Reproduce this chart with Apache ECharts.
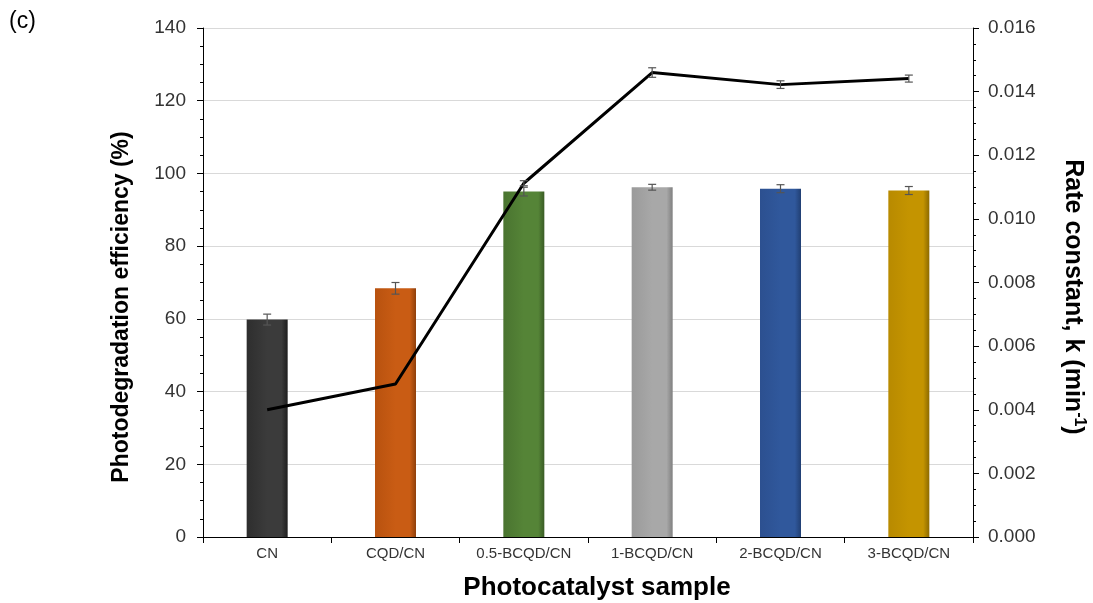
<!DOCTYPE html>
<html><head><meta charset="utf-8">
<script src="https://cdn.jsdelivr.net/npm/echarts@6/dist/echarts.min.js"></script>
<style>html,body{margin:0;padding:0;background:#fff}#c{width:1093px;height:603px}</style>
</head><body><div id="c"></div>
<script>
const categories = ['CN','CQD/CN','0.5-BCQD/CN','1-BCQD/CN','2-BCQD/CN','3-BCQD/CN'];
const efficiency = [59.8, 68.4, 95.0, 96.2, 95.8, 95.3];
const efficiencyErr = [1.5, 1.6, 1.2, 0.8, 1.1, 1.1];
const rateK = [0.00400, 0.00481, 0.01112, 0.01460, 0.01422, 0.01441];
const rateErr = [0, 0, 0.00008, 0.00015, 0.00012, 0.00011];
const leftTicks = [0,20,40,60,80,100,120,140];
const rightTicks = ['0.000','0.002','0.004','0.006','0.008','0.010','0.012','0.014','0.016'];
const barColors = [
  ['#2e2e2e','#3b3b3b','#1e1e1e'],
  ['#b8520f','#c95c14','#8f3f0b'],
  ['#4a7430','#558437','#3a5c25'],
  ['#9a9a9a','#a8a8a8','#808080'],
  ['#2c5090','#30589c','#213f73'],
  ['#b88a00','#c49400','#8c6a00']
];

function grad(c){
  return new echarts.graphic.LinearGradient(0,0,1,0,[
    {offset:0,color:c[0]},{offset:0.5,color:c[1]},{offset:0.85,color:c[1]},{offset:1,color:c[2]}]);
}

const chart = echarts.init(document.getElementById('c'), null, {renderer:'canvas'});
const font = 'Liberation Sans, Arial, sans-serif';

function errItem(params, api){
  const x = api.value(0), lo = api.value(1), hi = api.value(2);
  const p1 = api.coord([x, lo]), p2 = api.coord([x, hi]);
  const w = 4;
  const st = {stroke:'#555', lineWidth:1.2};
  return {type:'group', children:[
    {type:'line', shape:{x1:p1[0],y1:p1[1],x2:p2[0],y2:p2[1]}, style:st},
    {type:'line', shape:{x1:p1[0]-w,y1:p1[1],x2:p1[0]+w,y2:p1[1]}, style:st},
    {type:'line', shape:{x1:p2[0]-w,y1:p2[1],x2:p2[0]+w,y2:p2[1]}, style:st}
  ]};
}

chart.setOption({
  animation:false,
  backgroundColor:'#fff',
  graphic:[
    {type:'text', left:9, top:10, style:{text:'(c)', font:'23px '+font, fill:'#000'}},
    {type:'text', x:122, y:307, rotation:Math.PI/2,
      style:{text:'Photodegradation efficiency (%)', x:0, y:0, align:'center', verticalAlign:'middle',
        font:'bold 23px '+font, fill:'#000'}},
    {type:'text', x:1073, y:297, rotation:-Math.PI/2,
      style:{text:'{a|Rate constant, k (min}{s|-1}{a|)}', x:0, y:0, align:'center', verticalAlign:'middle',
        rich:{
          a:{fontSize:25, fontWeight:'bold', fill:'#000', fontFamily:font},
          s:{fontSize:16, fontWeight:'bold', fill:'#000', fontFamily:font, verticalAlign:'top', padding:[0,0,12,0]}
        }}},
    {type:'text', x:597, y:588,
      style:{text:'Photocatalyst sample', x:0, y:0, align:'center', verticalAlign:'middle',
        font:'bold 26px '+font, fill:'#000'}}
  ],
  grid:{left:203, right:120, top:28, bottom:66},
  xAxis:{type:'category', data:categories,
    axisLine:{lineStyle:{color:'#000', width:1}},
    axisTick:{show:true, interval:0, alignWithLabel:false, length:6, lineStyle:{color:'#000'}},
    axisLabel:{interval:0, color:'#333', fontSize:15, fontFamily:font, margin:9}
  },
  yAxis:[
    {type:'value', min:0, max:140, interval:20,
      axisLine:{show:true, lineStyle:{color:'#000'}},
      axisTick:{show:true, length:6, lineStyle:{color:'#000'}},
      minorTick:{show:true, splitNumber:4, length:3, lineStyle:{color:'#000'}},
      splitLine:{show:true, lineStyle:{color:'#d9d9d9', width:1}},
      axisLabel:{color:'#333', fontSize:19, fontFamily:font, margin:17}
    },
    {type:'value', min:0, max:0.016, interval:0.002, position:'right',
      axisLine:{show:true, lineStyle:{color:'#000'}},
      axisTick:{show:true, length:6, lineStyle:{color:'#000'}},
      minorTick:{show:true, splitNumber:4, length:3, lineStyle:{color:'#000'}},
      splitLine:{show:false},
      axisLabel:{color:'#333', fontSize:19, fontFamily:font, margin:15,
        formatter:(v)=>{const i=Math.round(v/0.002); return rightTicks[i]!==undefined?rightTicks[i]:v.toFixed(3);}}
    }
  ],
  series:[
    {type:'bar', yAxisIndex:0, barWidth:41, z:2,
      data:efficiency.map((v,i)=>({value:v, itemStyle:{color:grad(barColors[i])}}))},
    {type:'custom', yAxisIndex:0, z:3, renderItem:errItem,
      data:efficiency.map((v,i)=>[i, v-efficiencyErr[i], v+efficiencyErr[i]])},
    {type:'line', yAxisIndex:1, z:4, data:rateK, symbol:'none',
      lineStyle:{color:'#000', width:3}},
    {type:'custom', yAxisIndex:1, z:5, renderItem:errItem,
      data:rateK.map((v,i)=>[i, v-rateErr[i], v+rateErr[i]]).filter((d,i)=>rateErr[i]>0)}
  ]
});
</script></body></html>
